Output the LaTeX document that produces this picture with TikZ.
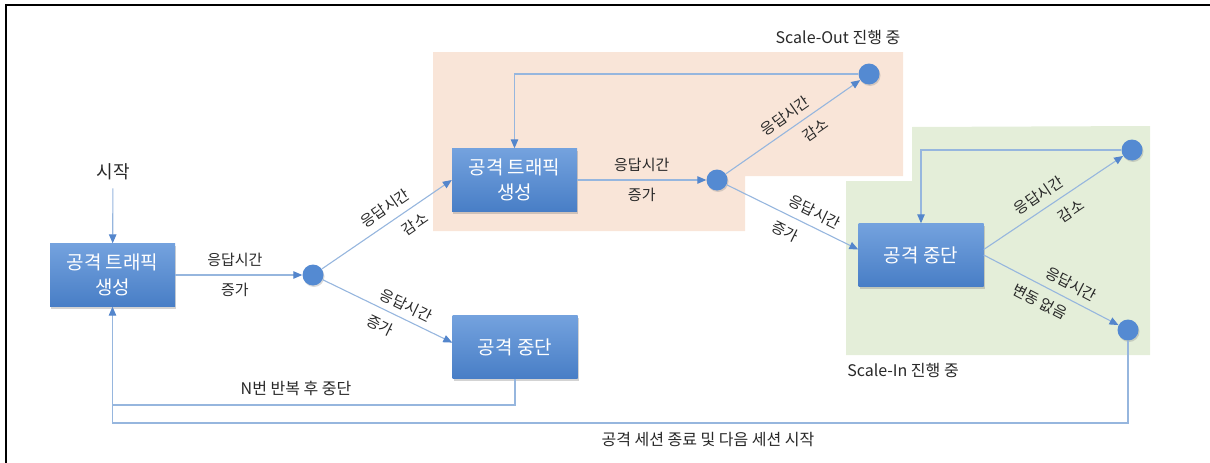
\documentclass[tikz,border=0pt]{standalone}
\usepackage{fontspec}
\setmainfont{Noto Sans CJK KR}
\usetikzlibrary{arrows.meta,shadows,calc}
\definecolor{linec}{RGB}{150,182,222}
\definecolor{tipc}{RGB}{84,134,204}
\definecolor{boxtop}{RGB}{116,162,222}
\definecolor{boxbot}{RGB}{72,126,198}
\definecolor{dotc}{RGB}{84,138,210}
\definecolor{orangebg}{RGB}{249,229,216}
\definecolor{greenbg}{RGB}{228,238,217}
\definecolor{txt}{RGB}{40,40,40}
\begin{document}
\begin{tikzpicture}[x=1pt,y=-1pt,
  stbox/.style={rectangle, minimum width=125pt, minimum height=63pt, inner sep=0pt,
    top color=boxtop, bottom color=boxbot, text=white, align=center,
    font=\fontsize{19}{25}\selectfont,
    drop shadow={opacity=0.35, shadow xshift=1pt, shadow yshift=-2pt}},
  dot/.style={circle, minimum size=21pt, inner sep=0pt, fill=dotc,
    drop shadow={opacity=0.3, shadow xshift=1pt, shadow yshift=-1.5pt}},
  conn/.style={draw=linec, line width=1.1pt},
  arr/.style={conn, -{Triangle[length=9pt,width=7.5pt,color=tipc]}},
  lab/.style={font=\fontsize{15}{17}\selectfont, text=txt, inner sep=0pt},
  biglab/.style={lab, font=\fontsize{16}{18}\selectfont},
  up/.style={lab, sloped, above=#1},
  dn/.style={lab, sloped, below=#1}
]
\useasboundingbox (0,0) rectangle (1210,463);
% background regions
\fill[orangebg] (433,52) -- (903,52) -- (903,176) -- (745,176) -- (745,231) -- (433,231) -- cycle;
\fill[greenbg] (912,127) -- (1150,126) -- (1150,355) -- (846,355) -- (846,181) -- (912,181) -- cycle;
% frame
\draw[line width=2.2pt, black] (6,463) -- (6,5) -- (1210,5);

% nodes
\node[lab, font=\fontsize{18}{20}\selectfont] (start) at (113,172) {시작};
\node[stbox] (b1) at (112.5,275) {공격 트래픽\\생성};
\node[dot] (c1) at (313,275) {};
\node[stbox] (b2) at (514.5,180) {공격 트래픽\\생성};
\node[stbox] (b3) at (515,347) {공격 중단};
\node[dot] (c2) at (717,180) {};
\node[dot] (c3) at (869,74) {};
\node[stbox] (b4) at (921,255) {공격 중단};
\node[dot] (c4) at (1132,150) {};
\node[dot] (c5) at (1128,330) {};
\node[biglab] (so) at (838,37) {Scale-Out 진행 중};
\node[biglab] (si) at (903,370) {Scale-In 진행 중};
\node[biglab] (rep) at (296,388) {N번 반복 후 중단};
\node[biglab] (ses) at (708,440) {공격 세션 종료 및 다음 세션 시작};

% connectors
\draw[arr, shorten <=8pt] (start) -- (b1);
\draw[arr] (b1) -- (c1)
  node[lab, pos=.47, above=8pt] {응답시간}
  node[lab, pos=.47, below=8pt] {증가};
\draw[arr] (c1) -- (b2.west)
  node[up=7pt, pos=.55] {응답시간}
  node[dn=8pt, pos=.65] {감소};
\draw[arr] (c1) -- (b3.176)
  node[up=6pt, pos=.6] {응답시간}
  node[dn=9pt, pos=.5] {증가};
\draw[arr] (b2) -- (c2)
  node[lab, pos=.5, above=8pt] {응답시간}
  node[lab, pos=.5, below=8pt] {증가};
\draw[arr] (c2) -- (c3)
  node[up=6pt, pos=.5] {응답시간}
  node[dn=8pt, pos=.6] {감소};
\draw[arr] (c2) -- (b4.175)
  node[up=7pt, pos=.62] {응답시간}
  node[dn=9pt, pos=.5] {증가};
\draw[arr] (b4.5) -- (c4)
  node[up=7pt, pos=.45] {응답시간}
  node[dn=9pt, pos=.56] {감소};
\draw[arr] (b4.east) -- (c5)
  node[up=7pt, pos=.6] {응답시간}
  node[dn=8pt, pos=.47] {변동 없음};
\draw[arr] (c3.west) -| (b2.north);
\draw[arr] (c4.west) -| (b4.north);
\coordinate (ml) at (b1.south |- 0,405);
\coordinate (bl) at (b1.south |- 0,423);
\draw[conn] (b3.south) |- (ml);
\draw[arr] (c5.south) |- (bl) -- (b1.south);
\end{tikzpicture}
\end{document}
